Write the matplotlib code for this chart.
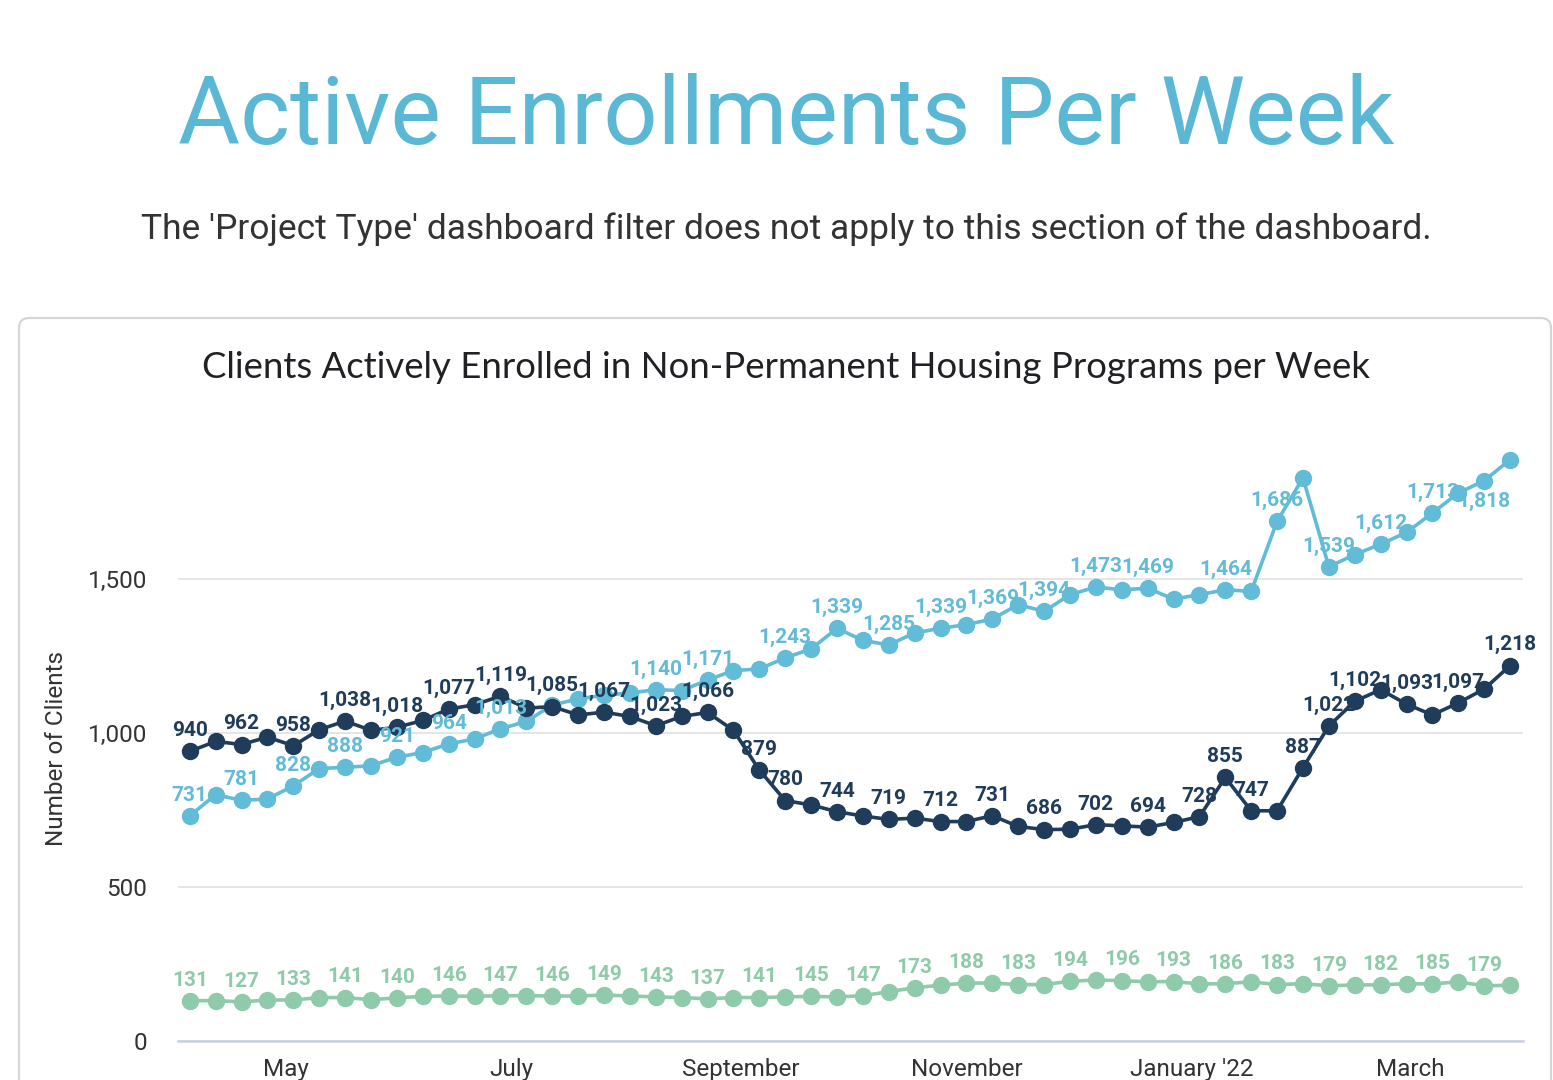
import matplotlib
matplotlib.use('Agg')
import matplotlib.pyplot as plt
from matplotlib.patches import FancyBboxPatch
import pandas as pd

# weekly data, 52 weeks starting early April 2021
weeks = pd.date_range('2021-04-05', periods=52, freq='W-MON')

navy_vals = [940, 972, 962, 986, 958, 1010, 1038, 1008, 1018, 1040,
             1077, 1091, 1119, 1080, 1085, 1058, 1067, 1053, 1023, 1053,
             1066, 1008, 879, 780, 766, 744, 730, 719, 723, 712,
             712, 731, 696, 686, 687, 702, 698, 694, 709, 728,
             855, 747, 747, 887, 1022, 1102, 1140, 1093, 1058, 1097,
             1142, 1218]
navy_labeled = [0, 2, 4, 6, 8, 10, 12, 14, 16, 18, 20, 22, 23, 25, 27, 29, 31,
                33, 35, 37, 39, 40, 41, 43, 44, 45, 47, 49, 51]

light_vals = [731, 799, 781, 785, 828, 884, 888, 893, 921, 936,
              964, 980, 1013, 1037, 1090, 1110, 1122, 1129, 1140, 1137,
              1171, 1202, 1207, 1243, 1272, 1339, 1300, 1285, 1324, 1339,
              1351, 1369, 1416, 1394, 1448, 1473, 1464, 1469, 1434, 1448,
              1464, 1459, 1686, 1827, 1539, 1578, 1612, 1650, 1713, 1778,
              1818, 1886]
light_labeled = [0, 2, 4, 6, 8, 10, 12, 18, 20, 23, 25, 27, 29, 31, 33, 35, 37,
                 40, 42, 44, 46, 48]
light_below = [50]

green_vals = [131, 131, 127, 133, 133, 141, 141, 134, 140, 145,
              146, 145, 147, 147, 146, 146, 149, 146, 143, 141,
              137, 141, 141, 143, 145, 143, 147, 160, 173, 181,
              188, 188, 183, 183, 194, 198, 196, 192, 193, 185,
              186, 192, 183, 186, 179, 182, 182, 186, 185, 192,
              179, 181]
green_labeled = list(range(0, 52, 2))

month_ticks = pd.to_datetime(['2021-05-01', '2021-07-01', '2021-09-01',
                              '2021-11-01', '2022-01-01', '2022-03-01'])
month_labels = ['May', 'July', 'September', 'November', "January '22", 'March']

NAVY = '#1f3c5b'
LIGHT = '#62bbd7'
GREEN = '#8fcaab'
TITLE_BLUE = '#5bb8d5'
TEXT = '#333333'

plt.rcParams['font.family'] = ['Roboto', 'DejaVu Sans']

fig = plt.figure(figsize=(15.53, 10.8), dpi=100)
fig.patch.set_facecolor('white')

cx = 786 / 1553
fig.text(cx, 1 - 118 / 1080, 'Active Enrollments Per Week', ha='center', va='center',
         fontsize=68.5, color=TITLE_BLUE)
fig.text(cx, 1 - 229 / 1080,
         "The 'Project Type' dashboard filter does not apply to this section of the dashboard.",
         ha='center', va='center', fontsize=25.5, color=TEXT)

# card outline (behind the axes)
card = FancyBboxPatch((0.19, -1.0), 15.32, 8.62, boxstyle='round,pad=0,rounding_size=0.1',
                      transform=fig.dpi_scale_trans, facecolor='white',
                      edgecolor='#d3d6da', linewidth=1.6, zorder=-5)
fig.patches.append(card)

fig.text(cx, 1 - 367 / 1080,
         'Clients Actively Enrolled in Non-Permanent Housing Programs per Week',
         ha='center', va='center', fontsize=26.3, color='#202124', family=['Lato', 'DejaVu Sans'])

ax = fig.add_axes([178 / 1553, 1 - 1041 / 1080, 1345 / 1553, 601 / 1080])
ax.set_facecolor('none')
ax.set_zorder(2)

ax.plot(weeks, green_vals, color=GREEN, lw=2.6, marker='o', ms=11.5, zorder=3)
ax.plot(weeks, light_vals, color=LIGHT, lw=2.6, marker='o', ms=11.5, zorder=4)
ax.plot(weeks, navy_vals, color=NAVY, lw=2.6, marker='o', ms=11.5, zorder=5)


def put_labels(vals, idxs, color, below=()):
    for i in idxs:
        off = -8 if i in below else 8
        ax.annotate(f'{vals[i]:,}', (weeks[i], vals[i]), xytext=(0, off),
                    textcoords='offset points', ha='center',
                    va='top' if i in below else 'bottom',
                    fontsize=15, fontweight='bold', color=color, zorder=6)


put_labels(green_vals, green_labeled, GREEN)
put_labels(light_vals, light_labeled + light_below, LIGHT, below=light_below)
put_labels(navy_vals, navy_labeled, NAVY)

ax.set_ylim(0, 1950)
ax.set_yticks([0, 500, 1000, 1500])
ax.set_yticklabels(['0', '500', '1,000', '1,500'])
ax.set_xlim(weeks[0] - pd.Timedelta(days=3.2), weeks[-1] + pd.Timedelta(days=3.5))
ax.set_xticks(month_ticks)
ax.set_xticklabels(month_labels)

ax.grid(axis='y', color='#e3e3e3', lw=1.3)
ax.set_axisbelow(True)
for s in ['top', 'right', 'left']:
    ax.spines[s].set_visible(False)
ax.spines['bottom'].set_color('#c9d0e6')
ax.spines['bottom'].set_linewidth(1.8)
ax.tick_params(axis='both', length=0, labelsize=17.5, labelcolor=TEXT)
ax.tick_params(axis='y', pad=22)
ax.tick_params(axis='x', pad=12)

ax.set_ylabel('Number of Clients', fontsize=17.5, color=TEXT)
ax.yaxis.set_label_coords(-0.0818, 0.4875)

fig.savefig('out.png', dpi=100)
